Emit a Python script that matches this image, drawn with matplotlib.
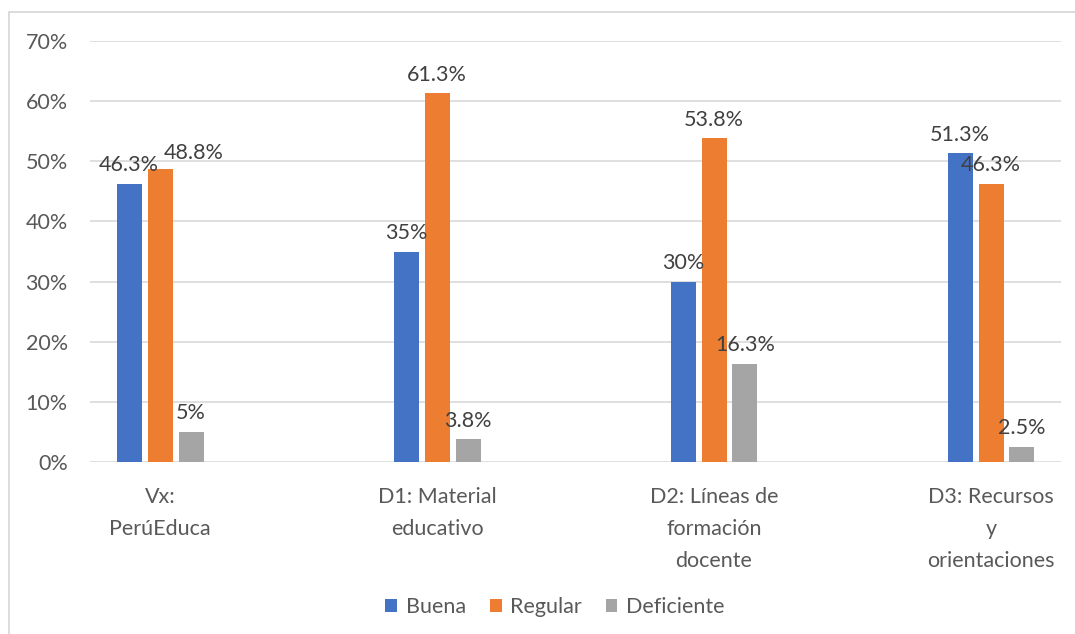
import matplotlib
matplotlib.use("Agg")
import matplotlib.pyplot as plt
from matplotlib.patches import Rectangle
import numpy as np

categories = ["Vx:\nPerúEduca", "D1: Material\neducativo",
              "D2: Líneas de\nformación\ndocente", "D3: Recursos\ny\norientaciones"]
series_names = ["Buena", "Regular", "Deficiente"]
buena = [46.3, 35.0, 30.0, 51.3]
regular = [48.8, 61.3, 53.8, 46.3]
deficiente = [5.0, 3.8, 16.3, 2.5]
labels_buena = ["46.3%", "35%", "30%", "51.3%"]
labels_regular = ["48.8%", "61.3%", "53.8%", "46.3%"]
labels_deficiente = ["5%", "3.8%", "16.3%", "2.5%"]
yticks = [0, 10, 20, 30, 40, 50, 60, 70]
ytick_labels = ["0%", "10%", "20%", "30%", "40%", "50%", "60%", "70%"]

colors = ["#4472C4", "#ED7D31", "#A5A5A5"]
plt.rcParams['font.family'] = ['Lato', 'DejaVu Sans']
FS = 15.5

W, H = 1075, 634
fig = plt.figure(figsize=(W / 100, H / 100), dpi=100)
fig.patch.set_facecolor("white")
fig.add_artist(Rectangle((8.5 / W, -0.1), 2, (H - 11.5) / H + 0.1,
                         transform=fig.transFigure, fill=False,
                         edgecolor="#D9D9D9", lw=1.3))

ax = fig.add_axes([90 / W, (H - 462) / H, (1061 - 90) / W, (462 - 41) / H])
x = np.arange(len(categories))
step = 31 / 277
width = 25 / 277
data = [buena, regular, deficiente]
labs = [labels_buena, labels_regular, labels_deficiente]
# label nudges (series index, category index) -> offset in points, as Excel moved it
nudges = {(1, 0): (24.0, 7.2)}
for i, (vals, lab, c, name) in enumerate(zip(data, labs, colors, series_names)):
    pos = x + (i - 1) * step
    ax.bar(pos, vals, width=width, color=c, label=name, zorder=3)
    for j, (p, v, t) in enumerate(zip(pos, vals, lab)):
        off = nudges.get((i, j), (0, 9.0))
        ax.annotate(t, (p, v), xytext=off, textcoords="offset points",
                    ha="center", va="baseline", fontsize=FS, color="#404040",
                    zorder=4)

ax.set_xlim(-(160 - 90) / 277, 3 + (1061 - 991) / 277)
ax.set_ylim(0, 70)
ax.set_yticks(yticks)
ax.set_yticklabels(ytick_labels)
ax.set_xticks(x)
ax.set_xticklabels(categories, linespacing=1.75)
ax.tick_params(axis="y", length=0, pad=16, labelsize=FS, labelcolor="#595959")
ax.tick_params(axis="x", length=0, pad=18, labelsize=FS, labelcolor="#595959")
ax.grid(axis="y", color="#D9D9D9", lw=1.2, zorder=0)
for s in ax.spines.values():
    s.set_visible(False)

leg = fig.legend(loc="center", bbox_to_anchor=(555 / W, (H - 607) / H), ncol=3,
                 frameon=False, fontsize=FS, handlelength=0.55, handleheight=0.55,
                 handletextpad=0.4, columnspacing=1.1)
for t in leg.get_texts():
    t.set_color("#595959")

fig.savefig("out.png", dpi=100)
